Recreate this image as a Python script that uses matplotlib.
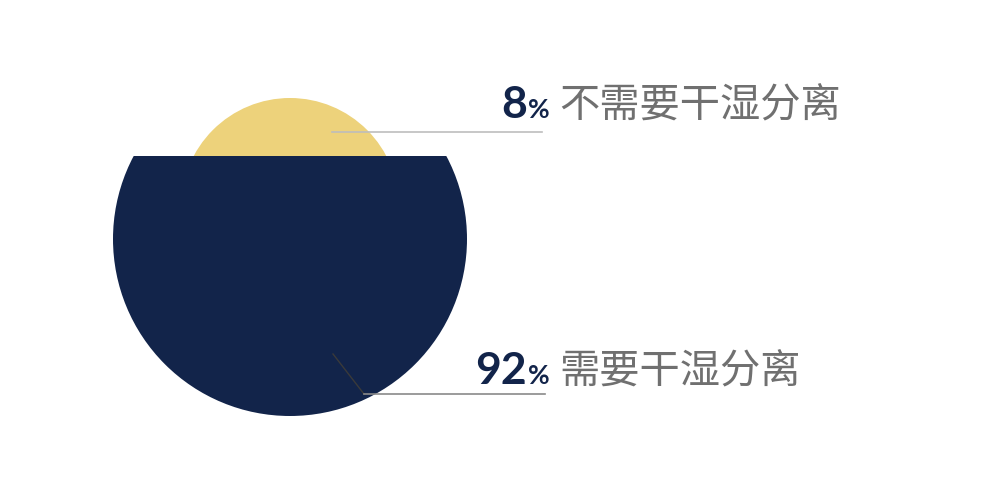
import matplotlib
matplotlib.use("Agg")
import matplotlib.pyplot as plt
from matplotlib.patches import Circle, Rectangle

# share of respondents
labels = ["不需要干湿分离", "需要干湿分离"]
values = [8, 92]

navy = "#12244a"
gold = "#edd27b"

fig = plt.figure(figsize=(10, 4.78), dpi=100)
ax = fig.add_axes([0, 0, 1, 1])
ax.set_xlim(0, 1000)
ax.set_ylim(478, 0)
ax.set_aspect("equal")
ax.axis("off")

# small gold disc sitting behind the big navy one
ax.add_patch(Circle((290, 207), 109, color=gold, lw=0, zorder=1))

# navy disc with its top sliced off
big = Circle((290, 239), 177, color=navy, lw=0, zorder=2)
ax.add_patch(big)
cut = Rectangle((0, 156), 1000, 400, transform=ax.transData)
big.set_clip_path(cut)

# leader lines
ax.plot([332, 542], [132, 132], color="#bdbdbd", lw=1.2, zorder=3)
ax.plot([333, 364], [354, 394], color="#3a3a3a", lw=1.0, zorder=3)
ax.plot([364, 545], [394, 394], color="#8a8a8a", lw=1.2, zorder=3)

# labels
rows = [118, 384]
for val, lab, y in zip(values, labels, rows):
    ax.text(527, y, str(val), ha="right", va="baseline", fontsize=32,
            fontweight="bold", family="Lato", color=navy, zorder=4)
    ax.text(528, y, "%", ha="left", va="baseline", fontsize=19,
            fontweight="bold", family="Lato", color=navy, zorder=4)
    ax.text(559, y - 2, lab, ha="left", va="baseline", fontsize=29,
            fontweight="light", family=["Noto Sans CJK SC", "DejaVu Sans"],
            color="#707070", zorder=4)

fig.savefig("out.png", dpi=100, facecolor="white")
